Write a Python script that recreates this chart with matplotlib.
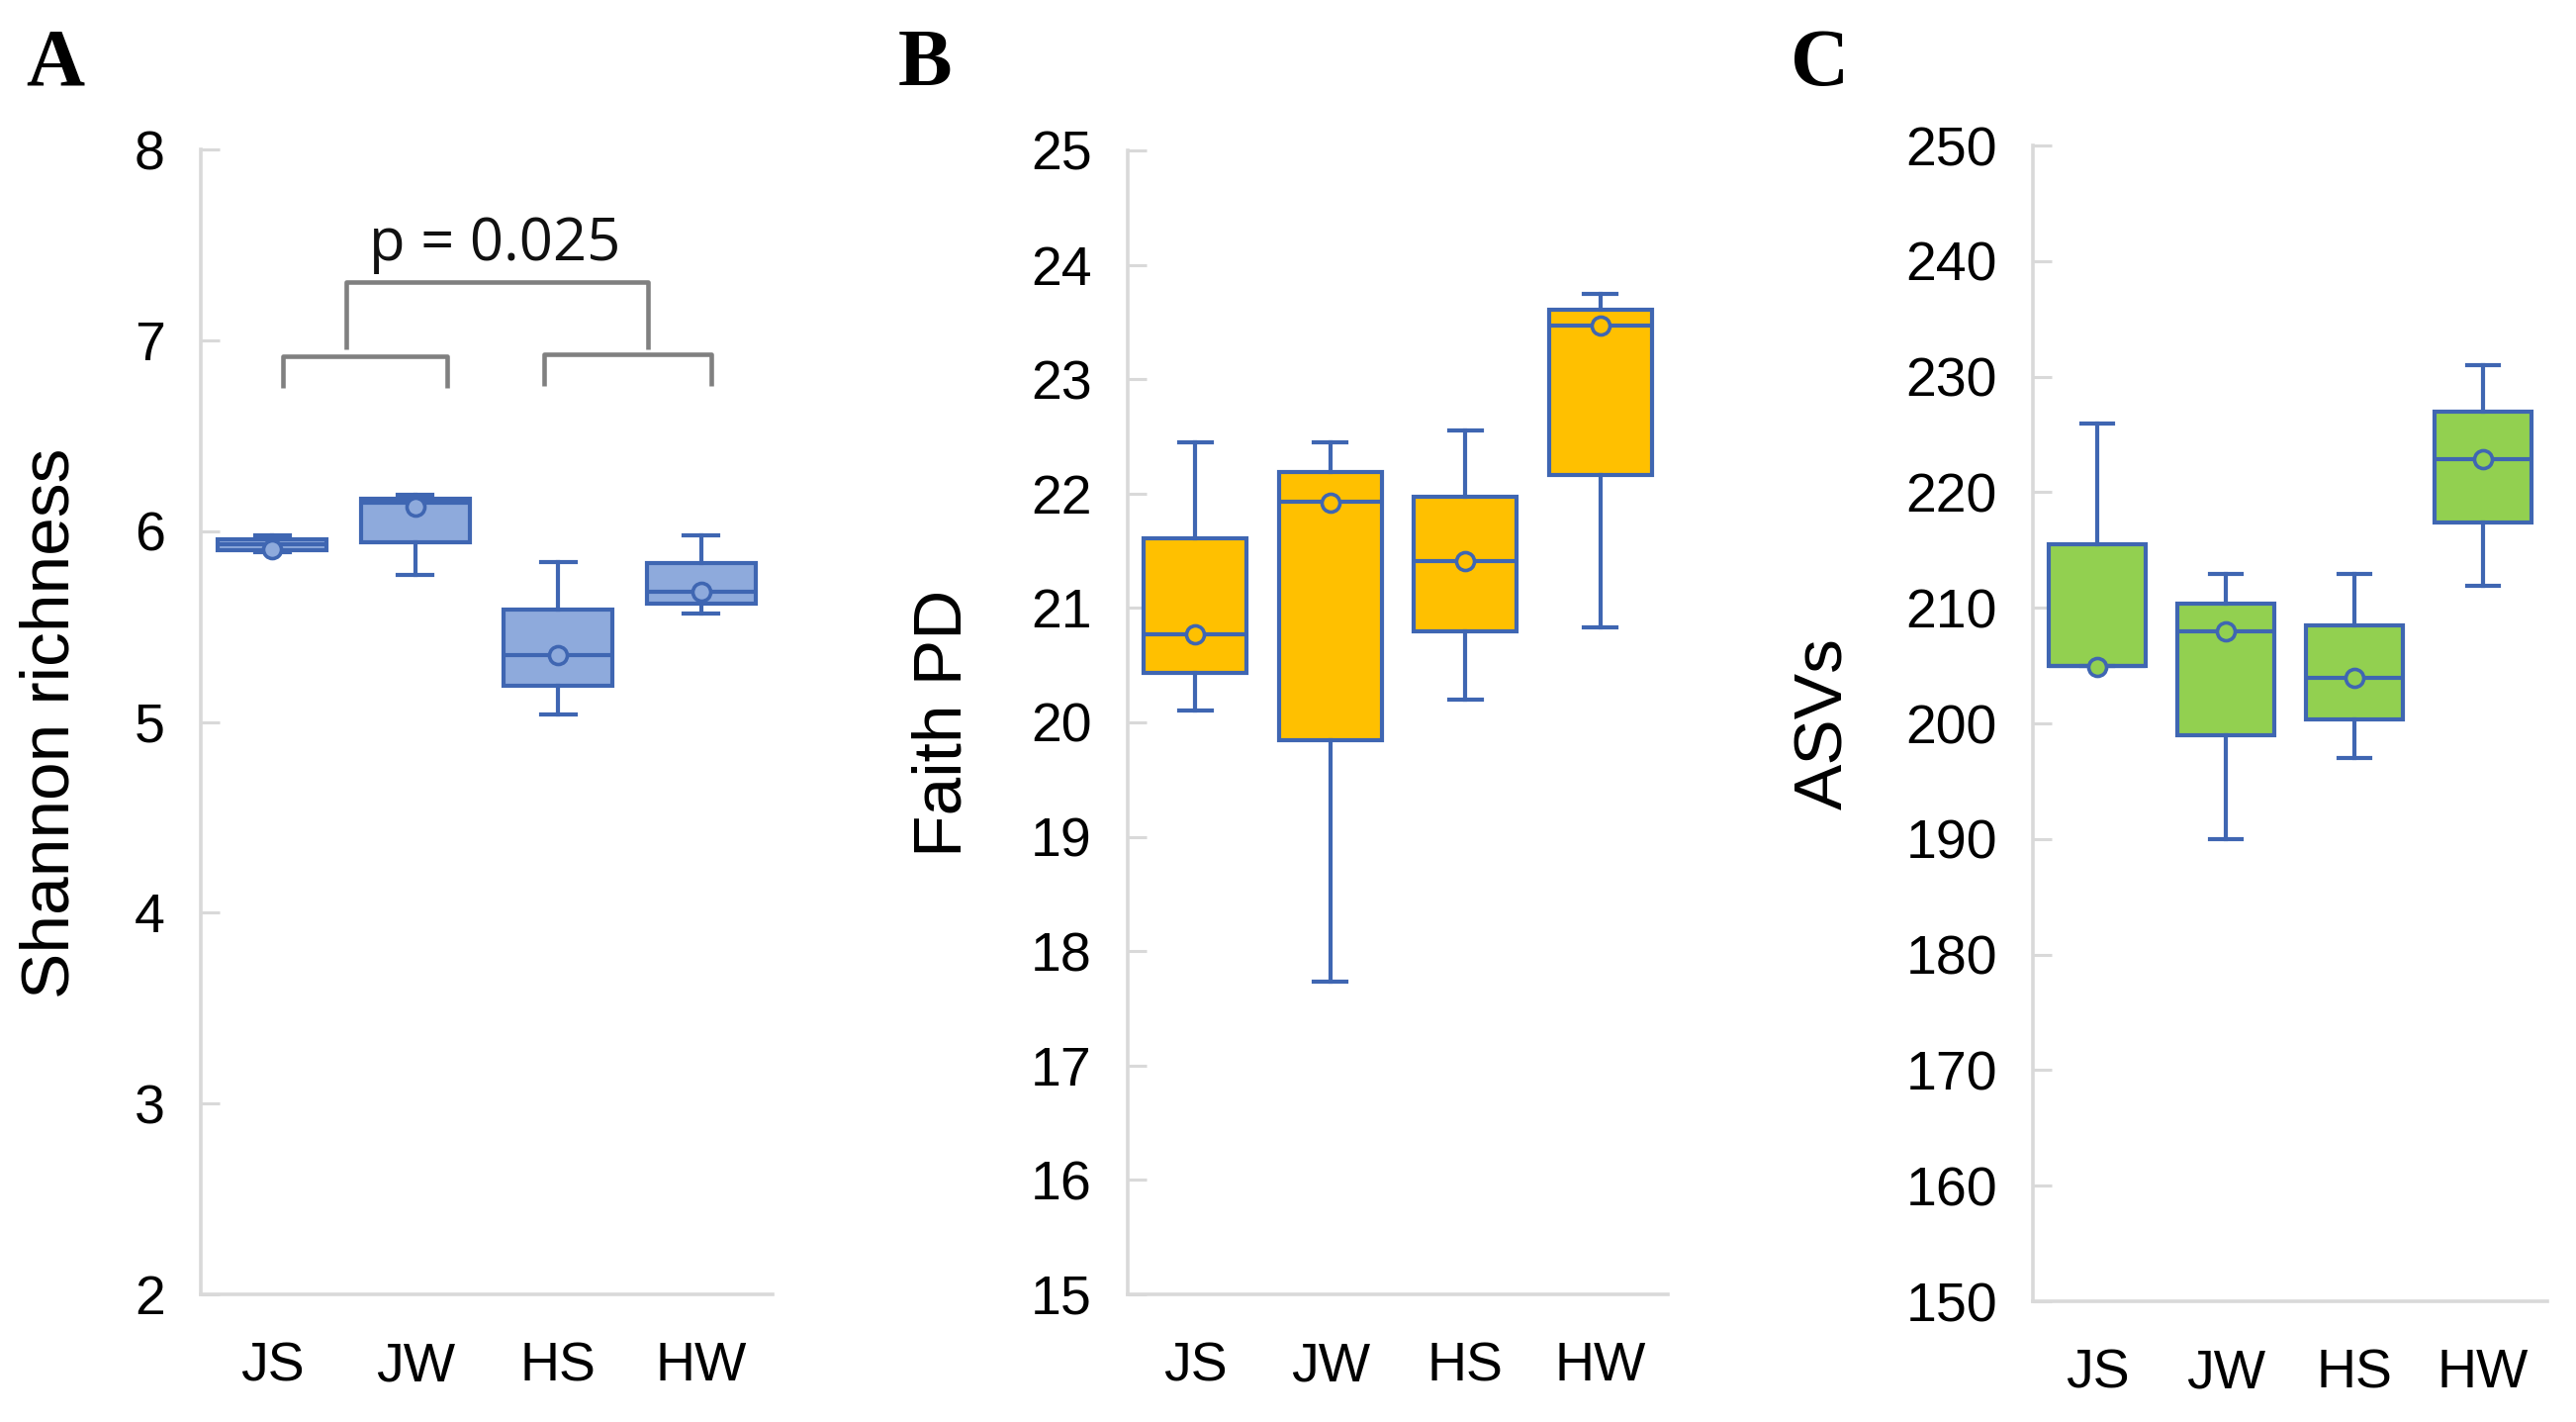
import matplotlib
matplotlib.use("Agg")
import matplotlib.pyplot as plt

W, H = 2604, 1437
DPI = 100

groups = ["JS", "JW", "HS", "HW"]

# Panel A: Shannon richness
shannon_min = [5.89, 5.77, 5.04, 5.57]
shannon_q1 = [5.90, 5.94, 5.19, 5.62]
shannon_med = [5.93, 6.15, 5.35, 5.68]
shannon_q3 = [5.955, 6.17, 5.59, 5.83]
shannon_max = [5.98, 6.19, 5.84, 5.98]
shannon_mean = [5.905, 6.13, 5.35, 5.68]

# Panel B: Faith PD
faith_min = [20.10, 17.73, 20.20, 20.83]
faith_q1 = [20.43, 19.84, 20.80, 22.16]
faith_med = [20.77, 21.93, 21.41, 23.47]
faith_q3 = [21.61, 22.19, 21.97, 23.61]
faith_max = [22.45, 22.45, 22.55, 23.75]
faith_mean = [20.77, 21.92, 21.41, 23.47]

# Panel C: ASVs
asv_min = [205.0, 190.0, 197.0, 211.9]
asv_q1 = [205.0, 199.0, 200.3, 217.4]
asv_med = [205.0, 208.0, 203.9, 222.9]
asv_q3 = [215.5, 210.4, 208.5, 227.0]
asv_max = [225.9, 212.9, 212.9, 231.0]
asv_mean = [204.9, 208.0, 203.9, 222.9]

EDGE = "#3f66b2"
SPINE = "#d9d9d9"

fig = plt.figure(figsize=(W / DPI, H / DPI), dpi=DPI)


def px_axes(l, r, t, b):
    return fig.add_axes([l / W, 1 - b / H, (r - l) / W, (b - t) / H])


def panel(ax, mins, q1, med, q3, maxs, means, fill, ylim, yticks):
    stats = []
    for i in range(len(groups)):
        stats.append(dict(whislo=mins[i], q1=q1[i], med=med[i], q3=q3[i],
                          whishi=maxs[i], mean=means[i], fliers=[], label=groups[i]))
    ax.bxp(stats, positions=range(len(groups)), widths=0.76, patch_artist=True,
           showmeans=True, showfliers=False, capwidths=0.24,
           boxprops=dict(facecolor=fill, edgecolor=EDGE, linewidth=3.0),
           medianprops=dict(color=EDGE, linewidth=3.0),
           whiskerprops=dict(color=EDGE, linewidth=3.0),
           capprops=dict(color=EDGE, linewidth=3.0),
           meanprops=dict(marker="o", markerfacecolor=fill, markeredgecolor=EDGE,
                          markersize=13, markeredgewidth=2.6))
    ax.set_xlim(-0.5, 3.5)
    ax.set_ylim(*ylim)
    ax.set_yticks(yticks)
    ax.set_xticks(range(len(groups)))
    ax.set_xticklabels(groups)
    for s in ["top", "right"]:
        ax.spines[s].set_visible(False)
    for s in ["left", "bottom"]:
        ax.spines[s].set_color(SPINE)
        ax.spines[s].set_linewidth(2.6)
    ax.tick_params(axis="y", direction="in", length=14, width=2.2, color=SPINE,
                   labelsize=40, pad=26)
    ax.tick_params(axis="x", length=0, labelsize=40, pad=34)
    for lab in ax.get_xticklabels() + ax.get_yticklabels():
        lab.set_fontfamily("Liberation Sans")
    ax.set_facecolor("none")


axA = px_axes(203, 781, 151, 1308)
panel(axA, shannon_min, shannon_q1, shannon_med, shannon_q3, shannon_max, shannon_mean,
      "#8eaadc", (2, 8), [2, 3, 4, 5, 6, 7, 8])

axB = px_axes(1140, 1686, 152, 1308)
panel(axB, faith_min, faith_q1, faith_med, faith_q3, faith_max, faith_mean,
      "#ffc000", (15, 25), list(range(15, 26)))

axC = px_axes(2055, 2575, 147, 1315)
panel(axC, asv_min, asv_q1, asv_med, asv_q3, asv_max, asv_mean,
      "#92d050", (150, 250), list(range(150, 251, 10)))

# y labels
for x, txt in [(52, "Shannon richness"), (953, "Faith PD"), (1844, "ASVs")]:
    fig.text(x / W, 1 - 731 / H, txt, rotation=90, ha="center", va="center",
             fontsize=50, family="Liberation Sans")

# panel letters
for x, txt in [(56, "A"), (935, "B"), (1840, "C")]:
    fig.text(x / W, 1 - 86 / H, txt, ha="center", va="baseline", fontsize=59,
             fontweight="bold", family="Liberation Serif")

# significance brackets (panel A)
BR = "#808080"
brackets = [
    ([0.076, 0.076, 1.225, 1.225], [6.75, 6.915, 6.915, 6.75]),
    ([1.90, 1.90, 3.07, 3.07], [6.76, 6.925, 6.925, 6.76]),
    ([0.52, 0.52, 2.63, 2.63], [6.95, 7.305, 7.305, 6.95]),
]
for bx, by in brackets:
    axA.plot(bx, by, color=BR, linewidth=3.3, solid_joinstyle="round",
             solid_capstyle="butt", clip_on=False)
axA.text(1.557, 7.42, "p = 0.025", ha="center", va="baseline", fontsize=43,
         family="Open Sans", color="#111111")

fig.savefig("out.png", dpi=DPI, facecolor="white")
